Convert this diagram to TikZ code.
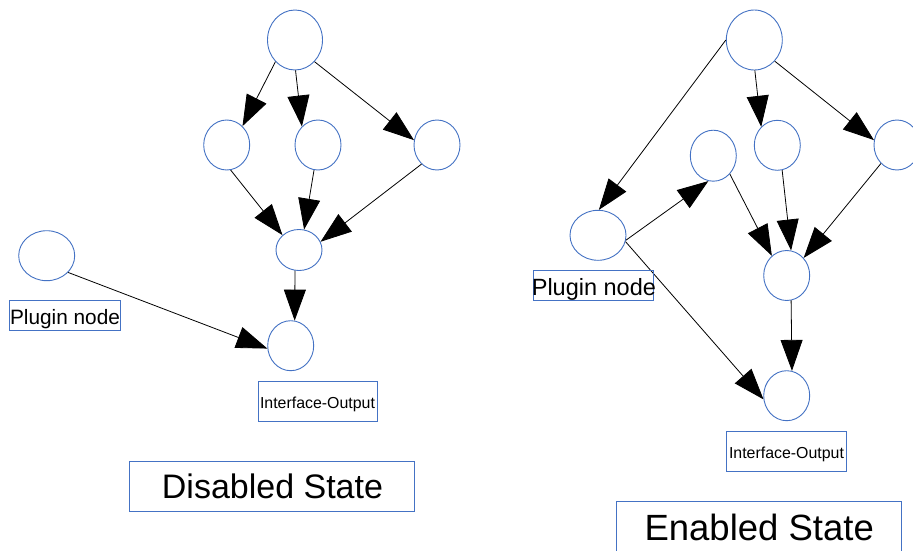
\documentclass[tikz,border=0pt]{standalone}
\usepackage{fontspec}
\setmainfont{Liberation Sans}
\usetikzlibrary{shapes.geometric,arrows.meta}
\definecolor{shapeblue}{RGB}{68,114,196}
\begin{document}
\begin{tikzpicture}[x=1pt,y=-1pt,
  nd/.style={ellipse,draw=shapeblue,line width=0.9pt,inner sep=0pt},
  big/.style={nd,minimum width=55pt,minimum height=60pt},
  sm/.style={nd,minimum width=46pt,minimum height=50pt},
  box/.style={draw=shapeblue,line width=0.8pt,inner sep=0pt},
  txt/.style={inner sep=0pt,anchor=base,text=black},
  arr/.style={-{Triangle[length=31pt,width=22pt]},line width=0.8pt,black}]
\clip (0,0) rectangle (913,551);
\fill[white] (0,0) rectangle (913,551);
% ---------------- Disabled state ----------------
\node[big] (LT) at (295,40) {};
\node[sm] (L1) at (226.7,145) {};
\node[sm] (L2) at (318,145) {};
\node[sm] (L3) at (437,145) {};
\node[nd,minimum width=46pt,minimum height=41pt] (LM) at (299,250) {};
\node[sm] (LO) at (290.7,345.7) {};
\node[nd,minimum width=56pt,minimum height=50pt] (LP) at (46.7,255.7) {};
\draw[arr] (LT.228) -- (L1.50);
\draw[arr] (LT.271) -- (L2.131);
\draw[arr] (LT.312) -- (L3.168);
\draw[arr] (L1.279) -- (LM.138);
\draw[arr] (L2.261) -- (LM.76);
\draw[arr] (L3.231) -- (LM.21);
\draw[arr] (LM.259) -- (LO.81);
\draw[arr] (LP.322) -- (LO.187);
\node[box,minimum width=111pt,minimum height=30pt] (LPbox) at (64.8,315.7) {};
\node[txt,font=\fontsize{20.8}{24}\selectfont] (LPtxt) at (65,324) {Plugin node};
\node[box,minimum width=119.4pt,minimum height=40pt] (LObox) at (318,401) {};
\node[txt,font=\fontsize{15.9}{19}\selectfont] (LOtxt) at (317.5,408.3) {Interface-Output};
\node[box,minimum width=285.4pt,minimum height=49.3pt] (Dbox) at (272,486.3) {};
\node[txt,font=\fontsize{34}{40}\selectfont] (Dtxt) at (272.5,498.3) {Disabled State};
% ---------------- Enabled state ----------------
\node[nd,minimum width=56pt,minimum height=60pt] (RT) at (754.3,40) {};
\node[nd,minimum width=46pt,minimum height=51pt] (RA) at (713.3,155.7) {};
\node[sm] (RB) at (777.3,145.3) {};
\node[sm] (RC) at (897,145) {};
\node[nd,minimum width=56pt,minimum height=50pt] (RP) at (598,235.3) {};
\node[sm] (RM) at (786.7,275.5) {};
\node[sm] (RO) at (786.7,395.7) {};
\draw[arr] (RT.180) -- (RP.88);
\draw[arr] (RT.271) -- (RB.131);
\draw[arr] (RT.314) -- (RC.168);
\draw[arr] (RP.350) -- (RA.259);
\draw[arr] (RA.312) -- (RM.127);
\draw[arr] (RB.281) -- (RM.80);
\draw[arr] (RC.229) -- (RM.46);
\draw[arr] (RM.280) -- (RO.78);
\draw[arr] (RP.347) -- (RO.189);
\node[box,minimum width=119.6pt,minimum height=30pt] (RPbox) at (593.5,285.7) {};
\node[txt,font=\fontsize{23.5}{28}\selectfont] (RPtxt) at (593.9,295) {Plugin node};
\node[box,minimum width=120pt,minimum height=40pt] (RObox) at (786.7,451) {};
\node[txt,font=\fontsize{15.9}{19}\selectfont] (ROtxt) at (786.5,458.3) {Interface-Output};
\node[box,minimum width=285pt,minimum height=52pt] (Ebox) at (759.2,527.7) {};
\node[txt,font=\fontsize{36.5}{42}\selectfont] (Etxt) at (759.2,540) {Enabled State};
\end{tikzpicture}
\end{document}
